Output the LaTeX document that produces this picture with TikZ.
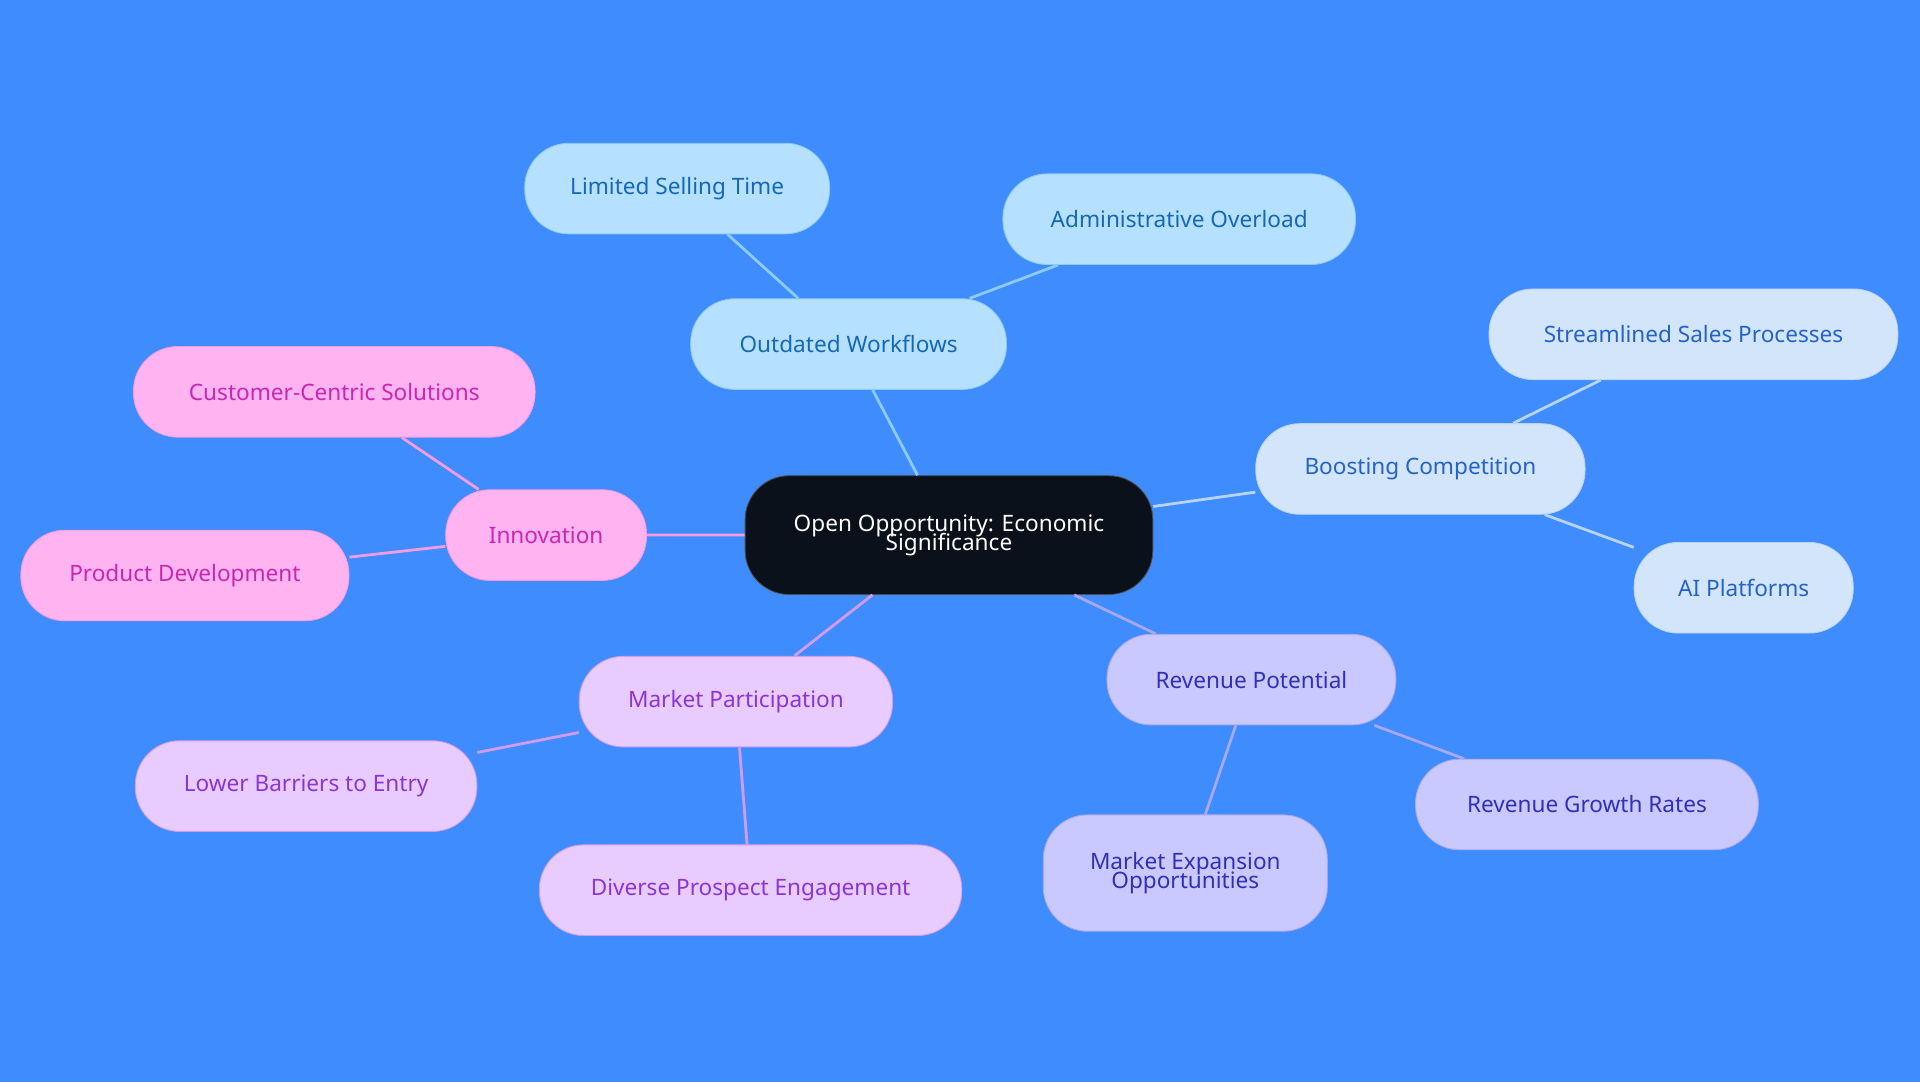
\documentclass[tikz,border=0pt]{standalone}
\usepackage{fontspec}
\setmainfont{Noto Sans}
\usetikzlibrary{positioning}
\definecolor{bgblue}{HTML}{3F8CFF}
\definecolor{topfill}{HTML}{0B111A}
\definecolor{owfill}{HTML}{B5E0FF}\definecolor{owtext}{HTML}{1768B4}\definecolor{owline}{HTML}{8CCBF5}
\definecolor{bcfill}{HTML}{D2E5FA}\definecolor{bctext}{HTML}{2563C8}\definecolor{bcline}{HTML}{B8D4F5}
\definecolor{rpfill}{HTML}{C9C9FF}\definecolor{rptext}{HTML}{3030B8}\definecolor{rpline}{HTML}{A8A8F0}
\definecolor{mpfill}{HTML}{E8CCFF}\definecolor{mptext}{HTML}{8A35D5}\definecolor{mpline}{HTML}{D29BF0}
\definecolor{infill}{HTML}{FFB3F0}\definecolor{intext}{HTML}{C927B0}\definecolor{inline}{HTML}{F59BE0}
\begin{document}
\begin{tikzpicture}[x=0.02cm,y=-0.02cm,
pill/.style={rounded corners=0.72cm, minimum height=1.48cm, align=center,
  font=\fontsize{10.5}{11}\selectfont, inner sep=2pt},
ow/.style={pill, fill=owfill, draw=owline, text=owtext},
bc/.style={pill, fill=bcfill, draw=bcline, text=bctext},
rp/.style={pill, fill=rpfill, draw=rpline, text=rptext},
mp/.style={pill, fill=mpfill, draw=mpline, text=mptext},
inv/.style={pill, fill=infill, draw=inline, text=intext},
link/.style={line width=1.3pt}
]
\fill[bgblue] (0,0) rectangle (1568,884);
\useasboundingbox (0,0) rectangle (1568,884);
% nodes
\node[pill, fill=topfill, draw=black!70, text=white, minimum width=6.66cm, minimum height=1.94cm] (root) at (775,437) {Open Opportunity: Economic\\[-2pt]Significance};
\node[ow, minimum width=5.16cm] (ow) at (693,281) {Outdated Workflows};
\node[ow, minimum width=4.98cm] (lst) at (553,154) {Limited Selling Time};
\node[ow, minimum width=5.76cm] (ao) at (963,179) {Administrative Overload};
\node[bc, minimum width=5.38cm] (bc) at (1160,383) {Boosting Competition};
\node[bc, minimum width=6.68cm] (ssp) at (1383,273) {Streamlined Sales Processes};
\node[bc, minimum width=3.58cm] (ai) at (1424,480) {AI Platforms};
\node[rp, minimum width=4.72cm] (rp) at (1022,555) {Revenue Potential};
\node[rp, minimum width=5.60cm] (rgr) at (1296,657) {Revenue Growth Rates};
\node[rp, minimum width=4.64cm, minimum height=1.9cm] (meo) at (968,713) {Market Expansion\\[-2pt]Opportunities};
\node[mp, minimum width=5.12cm] (mp) at (601,573) {Market Participation};
\node[mp, minimum width=5.58cm] (lbe) at (250,642) {Lower Barriers to Entry};
\node[mp, minimum width=6.90cm] (dpe) at (613,727) {Diverse Prospect Engagement};
\node[inv, minimum width=3.28cm] (inn) at (446,437) {Innovation};
\node[inv, minimum width=6.56cm] (ccs) at (273,320) {Customer-Centric Solutions};
\node[inv, minimum width=5.36cm] (pd) at (151,470) {Product Development};
% edges
\draw[link,owline] (root) -- (ow) (ow) -- (lst) (ow) -- (ao);
\draw[link,bcline] (root) -- (bc) (bc) -- (ssp) (bc) -- (ai);
\draw[link,rpline] (root) -- (rp) (rp) -- (rgr) (rp) -- (meo);
\draw[link,mpline] (root) -- (mp) (mp) -- (lbe) (mp) -- (dpe);
\draw[link,inline] (root) -- (inn) (inn) -- (ccs) (inn) -- (pd);
\end{tikzpicture}
\end{document}
